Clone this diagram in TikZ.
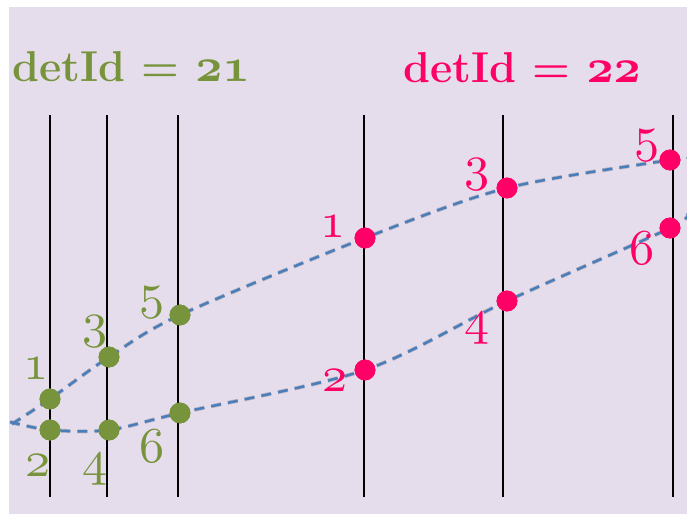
\documentclass[tikz,border=0pt]{standalone}
\usepackage{tikz}
\usetikzlibrary{arrows.meta}

\definecolor{panelbg}{HTML}{E6DDEC}
\definecolor{olivegreen}{HTML}{77933C}
\definecolor{hotpink}{HTML}{FF0066}
\definecolor{trackblue}{HTML}{4A7EBB}

% old-style figures, scalable to any size
\DeclareFontFamily{OML}{osfig}{\skewchar\font127}
\DeclareFontShape{OML}{osfig}{m}{it}{<->cmmi10}{}
\DeclareFontShape{OML}{osfig}{b}{it}{<->cmmib10}{}
\newcommand{\osf}[1]{{\usefont{OML}{osfig}{m}{it}#1}}
\newcommand{\bosf}[1]{{\fontsize{47}{54}\usefont{OML}{osfig}{b}{it}#1}}

\tikzset{
  wire/.style={line width=2.5pt, black},
  gdot/.style={circle, fill=olivegreen, inner sep=0pt, minimum size=7.3mm},
  pdot/.style={circle, fill=hotpink, inner sep=0pt, minimum size=7.3mm},
  glabel/.style={anchor=base, text=olivegreen, inner sep=0pt, font=\fontsize{50}{58}\selectfont},
  plabel/.style={anchor=base, text=hotpink, inner sep=0pt, font=\fontsize{50}{58}\selectfont},
  title/.style={anchor=base west, inner sep=0pt, font=\fontsize{43}{50}\selectfont\bfseries},
  track/.style={trackblue, line width=2.5pt, dash pattern=on 10pt off 7pt},
  trackshadow/.style={black, opacity=0.18, line width=4pt, dash pattern=on 10pt off 7pt}
}

\begin{document}
\begin{tikzpicture}[x=3.5mm,y=3.5mm]
                \useasboundingbox (0,0) rectangle (68.7,51.4);
                % Background panel
                \fill[panelbg] (0.9,0) rectangle (68.7,50.7);

                % Section titles
                \node[title, text=olivegreen] (t21) at (1.2,43.2) {detId = \bosf{21}};
                \node[title, text=hotpink] (t22) at (40.3,43.1) {detId = \bosf{22}};

                % Detector planes
                \draw[wire] (5.0,1.7) -- (5.0,39.9);
                \draw[wire] (10.7,1.7) -- (10.7,39.9);
                \draw[wire] (17.8,1.7) -- (17.8,39.9);
                \draw[wire] (36.4,1.7) -- (36.4,39.9);
                \draw[wire] (50.3,1.7) -- (50.3,39.9);
                \draw[wire] (67.3,1.7) -- (67.3,39.9);

                % Hits - detId 21
                \node[gdot] (g1) at (5.0,11.5) {};
                \node[gdot] (g2) at (5.0,8.4) {};
                \node[gdot] (g3) at (10.9,15.7) {};
                \node[gdot] (g4) at (10.9,8.4) {};
                \node[gdot] (g5) at (18.0,19.9) {};
                \node[gdot] (g6) at (18.0,10.1) {};

                % Hits - detId 22
                \node[pdot] (p1) at (36.5,27.6) {};
                \node[pdot] (p2) at (36.5,14.4) {};
                \node[pdot] (p3) at (50.7,32.6) {};
                \node[pdot] (p4) at (50.7,21.3) {};
                \node[pdot] (p5) at (67.0,35.4) {};
                \node[pdot] (p6) at (67.0,28.6) {};

                % Track ends
                \coordinate (inA) at (1.2,9.0);
                \coordinate (inB) at (1.0,9.2);
                \coordinate (outA) at (68.7,35.5);
                \coordinate (outB) at (68.7,30.1);

                % Tracks (shadow first)
                \draw[trackshadow, shift={(0.15,-0.25)}] plot[smooth] coordinates {(inA) (g1) (g3) (g5) (p1) (p3) (p5) (outA)};
                \draw[trackshadow, shift={(0.15,-0.25)}] plot[smooth] coordinates {(inB) (g2) (g4) (g6) (p2) (p4) (p6) (outB)};
                \draw[track] plot[smooth] coordinates {(inA) (g1) (g3) (g5) (p1) (p3) (p5) (outA)};
                \draw[track] plot[smooth] coordinates {(inB) (g2) (g4) (g6) (p2) (p4) (p6) (outB)};

                % Redraw hits on top of tracks
                \foreach \h in {g1,g2,g3,g4,g5,g6} \fill[olivegreen] (\h) circle (3.65mm);
                \foreach \h in {p1,p2,p3,p4,p5,p6} \fill[hotpink] (\h) circle (3.65mm);

                % Labels - detId 21
                \node[glabel] (lg1) at (3.6,13.4) {\osf{1}};
                \node[glabel] (lg2) at (3.8,3.7) {\osf{2}};
                \node[glabel] (lg3) at (9.5,17.6) {\osf{3}};
                \node[glabel] (lg4) at (9.5,3.8) {\osf{4}};
                \node[glabel] (lg5) at (15.2,20.5) {\osf{5}};
                \node[glabel] (lg6) at (15.2,5.1) {\osf{6}};

                % Labels - detId 22
                \node[plabel] (lp1) at (33.3,27.6) {\osf{1}};
                \node[plabel] (lp2) at (33.5,12.2) {\osf{2}};
                \node[plabel] (lp3) at (47.7,33.3) {\osf{3}};
                \node[plabel] (lp4) at (47.7,17.9) {\osf{4}};
                \node[plabel] (lp5) at (64.7,36.2) {\osf{5}};
                \node[plabel] (lp6) at (64.2,24.9) {\osf{6}};
            \end{tikzpicture}
\end{document}
